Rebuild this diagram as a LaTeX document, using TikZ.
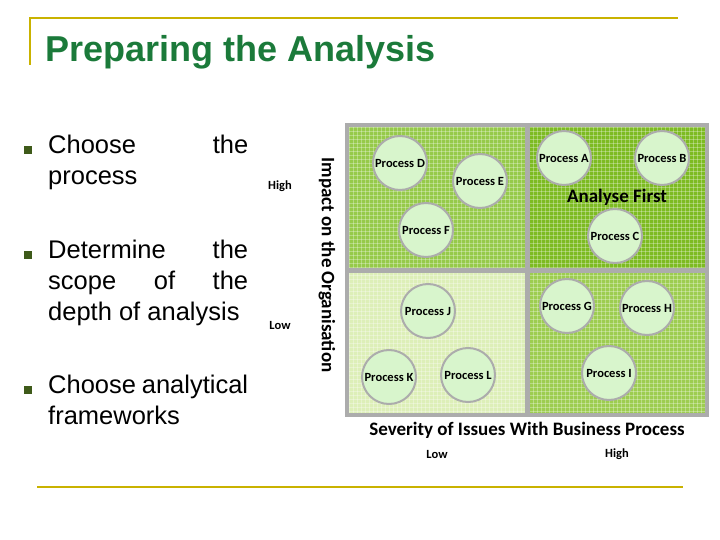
\documentclass[tikz,border=0pt]{standalone}
\usepackage{fontspec}
\setmainfont{Liberation Sans}
\newfontfamily\chartfont{Carlito}
\hyphenpenalty=10000
\exhyphenpenalty=10000
\begin{document}
\begin{tikzpicture}[x=1pt,y=-1pt,
  rule/.style={draw=gold,line width=2.5pt},
  bul/.style={fill=bulc,minimum size=8pt,inner sep=0pt},
  btext/.style={anchor=north west,text width=200pt,align=justify,font=\fontsize{25.5}{31}\selectfont,inner sep=0pt},
  proc/.style={circle,draw=gray!65,line width=2pt,fill=pgreen,minimum size=54pt,inner sep=0pt,font=\chartfont\bfseries\fontsize{12.5}{13}\selectfont},
  lab/.style={font=\chartfont\bfseries\fontsize{12.5}{13}\selectfont}]
\definecolor{gold}{HTML}{C9B200}
\definecolor{bulc}{HTML}{3E5A1A}
\definecolor{ttl}{HTML}{1B7A3A}
\definecolor{pgreen}{HTML}{D8F5CC}
\definecolor{qTL}{HTML}{96CA4A}
\definecolor{qTR}{HTML}{7DBB22}
\definecolor{qBL}{HTML}{DDEFB8}
\definecolor{qBR}{HTML}{9DCD50}
\useasboundingbox (0,0) rectangle (720,540);
\draw[rule] (30,65) coordinate (v0) -- (30,18) coordinate (v1) -- (678,18) coordinate (v2);
\draw[rule] (37,487) coordinate (h0) -- (683,487) coordinate (h1);
\node[anchor=west,text=ttl,font=\bfseries\fontsize{36}{40}\selectfont] (title) at (42,52) {Preparing the Analysis};
\node[bul] (b1m) at (28,150) {};
\node[btext] (t1) at (48,135) {Choose the process};
\node[bul] (b2m) at (28,255) {};
\node[btext] (t2) at (48,240) {Determine the scope of the depth of analysis};
\node[bul] (b3m) at (28,390) {};
\node[btext] (t3) at (48,375) {Choose analytical frameworks};
% quadrants
\fill[gray!65] (345,123) rectangle (709,417);
\fill[qTL] (349,127) rectangle (525,268);
\fill[qTR] (530,127) rectangle (705,268);
\fill[qBL] (349,273) rectangle (525,413);
\fill[qBR] (530,273) rectangle (705,413);
\begin{scope}
\clip (349,127) rectangle (705,413);
\foreach \gx in {349,353,...,705} \draw[white,opacity=0.3,line width=0.4pt] (\gx,127) -- (\gx,413);
\foreach \gy in {127,131,...,413} \draw[white,opacity=0.3,line width=0.4pt] (349,\gy) -- (705,\gy);
\end{scope}
\draw[gray!65,line width=4.5pt] (527.5,125) -- (527.5,415);
\draw[gray!65,line width=4.5pt] (347,270.5) -- (707,270.5);
\node[proc] (D) at (400,163) {Process D};
\node[proc] (E) at (480,181) {Process E};
\node[proc] (F) at (426,230) {Process F};
\node[proc] (A) at (564,158) {Process A};
\node[proc] (B) at (662,158) {Process B};
\node[proc] (C) at (615,236) {Process C};
\node[proc] (J) at (428,311) {Process J};
\node[proc] (K) at (389,377) {Process K};
\node[proc] (L) at (468,375) {Process L};
\node[proc] (G) at (567,306) {Process G};
\node[proc] (H) at (647,308) {Process H};
\node[proc] (I) at (609,373) {Process I};
\node[font=\chartfont\bfseries\fontsize{19}{20}\selectfont] (af) at (617,197) {Analyse First};
\node[lab] (yh) at (280,186) {High};
\node[lab] (yl) at (280,325) {Low};
\node[rotate=-90,font=\chartfont\bfseries\fontsize{19}{20}\selectfont] (yt) at (327,265) {Impact on the Organisation};
\node[font=\chartfont\bfseries\fontsize{19}{20}\selectfont] (xt) at (527,430) {Severity of Issues With Business Process};
\node[lab] (xl) at (437,454) {Low};
\node[lab] (xh) at (617,454) {High};
\end{tikzpicture}
\end{document}
